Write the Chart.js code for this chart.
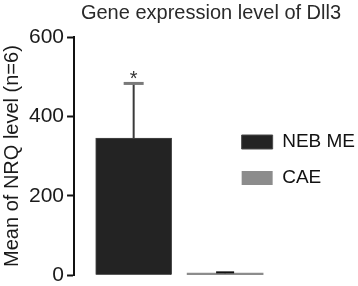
<!DOCTYPE html>
<html>
<head>
<meta charset="utf-8">
<script src="https://cdn.jsdelivr.net/npm/chart.js@4/dist/chart.umd.min.js"></script>
<style>
  html, body { margin: 0; padding: 0; background: #fff; }
  #wrap { position: relative; width: 358px; height: 286px; }
</style>
</head>
<body>
<div id="wrap"><canvas id="c" width="358" height="286"></canvas></div>
<script>
const chartTitle = 'Gene expression level of Dll3';
const yTitle = 'Mean of NRQ level (n=6)';
const categories = ['NEB ME', 'CAE'];
const means = [345, 5];
const errors = [138, 2];
const significance = ['*', ''];
const barColors = ['#232323', '#8c8c8c'];
const yTicks = [0, 200, 400, 600];

const FONT = "'Liberation Sans', Arial, Helvetica, sans-serif";

const datasets = categories.map((name, i) => ({
  label: name,
  data: [{ x: i, y: means[i] }],
  backgroundColor: barColors[i],
  borderColor: i === 0 ? '#4a4a4a' : barColors[i],
  borderWidth: i === 0 ? 1 : 0,
  clip: false
}));

const errorBars = {
  id: 'errorBars',
  afterDatasetsDraw(chart) {
    const ctx = chart.ctx;
    const ys = chart.scales.y;
    ctx.save();
    chart.data.datasets.forEach((ds, i) => {
      const bar = chart.getDatasetMeta(i).data[0];
      const x = bar.x;
      const yTop = ys.getPixelForValue(means[i] + errors[i]);
      const yBase = ys.getPixelForValue(means[i]);
      if (i === 0) {
        ctx.strokeStyle = '#3a3a3a';
        ctx.lineWidth = 2;
        ctx.beginPath(); ctx.moveTo(x, yBase); ctx.lineTo(x, yTop); ctx.stroke();
        ctx.strokeStyle = '#7a7a7a';
        ctx.lineWidth = 3;
        ctx.beginPath(); ctx.moveTo(x - 10, yTop); ctx.lineTo(x + 10, yTop); ctx.stroke();
      } else {
        ctx.strokeStyle = '#111';
        ctx.lineWidth = 2;
        ctx.beginPath(); ctx.moveTo(x, yBase); ctx.lineTo(x, yTop); ctx.stroke();
        ctx.beginPath(); ctx.moveTo(x - 9, yTop); ctx.lineTo(x + 9, yTop); ctx.stroke();
      }
      if (significance[i]) {
        ctx.fillStyle = '#333';
        ctx.font = '20px ' + FONT;
        ctx.textAlign = 'center';
        ctx.textBaseline = 'bottom';
        ctx.fillText(significance[i], x, yTop + 6);
      }
    });
    ctx.restore();
  }
};

const topTitle = {
  id: 'topTitle',
  afterDraw(chart) {
    const ctx = chart.ctx;
    ctx.save();
    ctx.fillStyle = '#2a2a2a';
    ctx.font = '20px ' + FONT;
    ctx.textAlign = 'center';
    ctx.textBaseline = 'top';
    ctx.fillText(chartTitle, 211, 3);
    ctx.restore();
  }
};

new Chart(document.getElementById('c'), {
  type: 'bar',
  data: { datasets },
  plugins: [errorBars, topTitle],
  options: {
    responsive: false,
    animation: false,
    grouped: false,
    barThickness: 76,
    layout: { padding: { top: 37, right: -7, bottom: 3, left: 0 } },
    plugins: {
      title: { display: false },
      tooltip: { enabled: false },
      legend: {
        position: 'right',
        maxWidth: 170,
        labels: {
          color: '#111',
          font: { family: FONT, size: 19 },
          boxWidth: 31,
          boxHeight: 14,
          padding: 17
        }
      }
    },
    scales: {
      x: {
        type: 'linear',
        display: false,
        offset: false,
        min: -0.652,
        max: 0.995
      },
      y: {
        min: 0,
        max: 600,
        afterBuildTicks(scale) { scale.ticks = yTicks.map(v => ({ value: v })); },
        ticks: {
          color: '#1a1a1a',
          font: { family: FONT, size: 21, lineHeight: 0.75 },
          padding: 3
        },
        grid: {
          display: true,
          drawOnChartArea: false,
          drawTicks: true,
          tickLength: 7,
          tickWidth: 2,
          tickColor: '#111'
        },
        border: { display: true, color: '#111', width: 2 },
        title: {
          display: true,
          text: yTitle,
          color: '#1a1a1a',
          font: { family: FONT, size: 20 },
          padding: { top: 0, bottom: 2 }
        }
      }
    }
  }
});
</script>
</body>
</html>
